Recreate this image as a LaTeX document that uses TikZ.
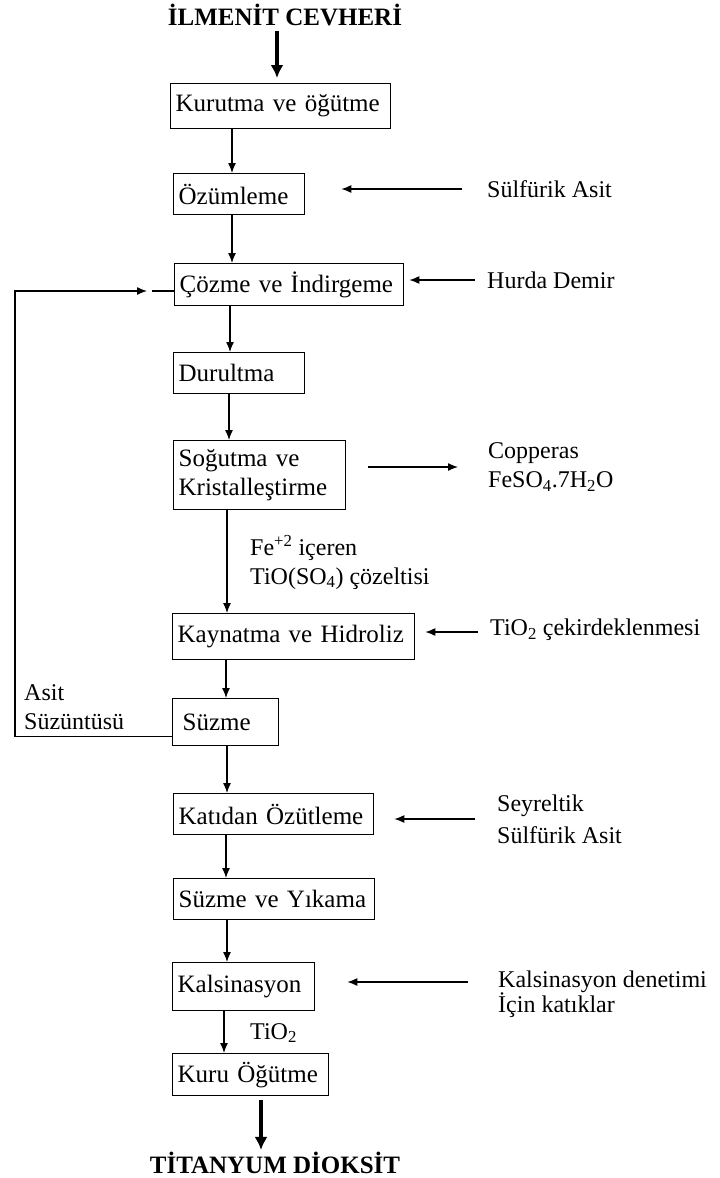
\documentclass[tikz,border=0pt]{standalone}
\usepackage{fontspec}
\setmainfont{Liberation Serif}
\usetikzlibrary{arrows.meta}
\begin{document}
\begin{tikzpicture}[x=1pt,y=-1pt,
  box/.style={draw, line width=1.3pt, anchor=north west, inner xsep=5pt, inner ysep=0pt, align=left, font=\fontsize{25}{29}\selectfont},
  lbl/.style={anchor=west, inner sep=0pt, align=left, font=\fontsize{24}{29}\selectfont},
  ttl/.style={inner sep=0pt, font=\bfseries\fontsize{25}{30}\selectfont},
  arr/.style={line width=1.3pt, -{Latex[length=10pt,width=8pt]}},
  thickarr/.style={line width=3.8pt, -{Latex[length=13pt,width=13pt]}},
  plainline/.style={line width=1.3pt}
]
\useasboundingbox (0,0) rectangle (720,1178);

% titles
\node[ttl] (t1) at (285,15) {İLMENİT CEVHERİ};
\node[ttl] (t2) at (275,1163) {TİTANYUM DİOKSİT};

% process boxes
\node[box, minimum height=45pt, text width=210pt] (k1) at (170,83) {Kurutma ve öğütme};
\node[box, minimum height=41pt, text width=121pt] (k2) at (173,173) {Özümleme};
\node[box, minimum height=42pt, text width=219pt] (k3) at (174,263) {Çözme ve İndirgeme};
\node[box, minimum height=41pt, text width=121pt] (k4) at (173,352) {Durultma};
\node[box, minimum height=69pt, text width=162pt] (k5) at (173,440) {Soğutma ve\\Kristalleştirme};
\node[box, minimum height=46pt, text width=232pt] (k6) at (172,613) {Kaynatma ve Hidroliz};
\node[box, minimum height=47pt, text width=96pt] (k7) at (172,698) {\hspace*{5pt}Süzme};
\node[box, minimum height=41pt, text width=190pt] (k8) at (173,793) {Katıdan Özütleme};
\node[box, minimum height=41pt, text width=191pt] (k9) at (173,878) {Süzme ve Yıkama};
\node[box, minimum height=48pt, text width=132pt] (k10) at (172,962) {Kalsinasyon};
\node[box, minimum height=42pt, text width=146pt] (k11) at (172,1053) {Kuru Öğütme};

% side labels
\node[lbl] (sa) at (487,189) {Sülfürik Asit};
\node[lbl] (hd) at (487,280) {Hurda Demir};
\node[lbl] (cp) at (488,467) {Copperas\\FeSO\textsubscript{4}.7H\textsubscript{2}O};
\node[lbl] (fe) at (250,562) {Fe\textsuperscript{+2} içeren\\TiO(SO\textsubscript{4}) çözeltisi};
\node[lbl] (tc) at (490,630) {TiO\textsubscript{2} çekirdeklenmesi};
\node[lbl] (as) at (24,707) {Asit\\Süzüntüsü};
\node[lbl, font=\fontsize{24}{32}\selectfont] (sy) at (497,819) {Seyreltik\\Sülfürik Asit};
\node[lbl, font=\fontsize{24}{25}\selectfont] (kd) at (498,994) {Kalsinasyon denetimi\\İçin katıklar};
\node[lbl] (ti) at (250,1033) {TiO\textsubscript{2}};

% main vertical flow
\draw[thickarr, shorten <=5pt, shorten >=5pt] ([xshift=-8pt]t1.south) -- ([xshift=107pt]k1.north west);
\draw[arr] ([xshift=62pt]k1.south west) -- ([xshift=59pt]k2.north west);
\draw[arr] ([xshift=59pt]k2.south west) -- ([xshift=58pt]k3.north west);
\draw[arr] ([xshift=56pt]k3.south west) -- ([xshift=57pt]k4.north west);
\draw[arr] ([xshift=56pt]k4.south west) -- ([xshift=56pt]k5.north west);
\draw[arr] ([xshift=54pt]k5.south west) -- ([xshift=55pt]k6.north west);
\draw[arr] ([xshift=54pt]k6.south west) -- ([xshift=54pt]k7.north west);
\draw[arr] ([xshift=55pt]k7.south west) -- ([xshift=54pt]k8.north west);
\draw[arr] ([xshift=53pt]k8.south west) -- ([xshift=53pt]k9.north west);
\draw[arr] ([xshift=54pt]k9.south west) -- ([xshift=55pt]k10.north west);
\draw[arr] ([xshift=52pt]k10.south west) -- ([xshift=52pt]k11.north west);
\draw[thickarr, shorten <=4pt, shorten >=2pt] ([xshift=89pt]k11.south west) -- ([xshift=-14pt]t2.north);

% side inputs / outputs
\draw[arr, shorten <=25pt, shorten >=36pt] (sa.west) -- (sa.west -| k2.east);
\draw[arr, shorten <=12pt, shorten >=5pt] (hd.west) -- (hd.west -| k3.east);
\draw[arr, shorten <=22pt, shorten >=30pt] (k5.east |- cp.west) -- (cp.west);
\draw[arr, shorten <=12pt, shorten >=10pt] ([yshift=-2pt]tc.west) -- ([yshift=-2pt]tc.west -| k6.east);
\draw[arr, shorten <=22pt, shorten >=20pt] (sy.west) -- (sy.west -| k8.east);
\draw[arr, shorten <=30pt, shorten >=32pt] ([yshift=12pt]kd.west) -- ([yshift=12pt]kd.west -| k10.east);

% recycle loop
\coordinate (lp) at (15,291);
\coordinate (ah) at (147,291);
\draw[arr] ([yshift=-14.5pt]k7.west) -| (lp) -- (ah);
\draw[plainline] ([xshift=5pt]ah) -- (k3.west |- ah);
\end{tikzpicture}
\end{document}
